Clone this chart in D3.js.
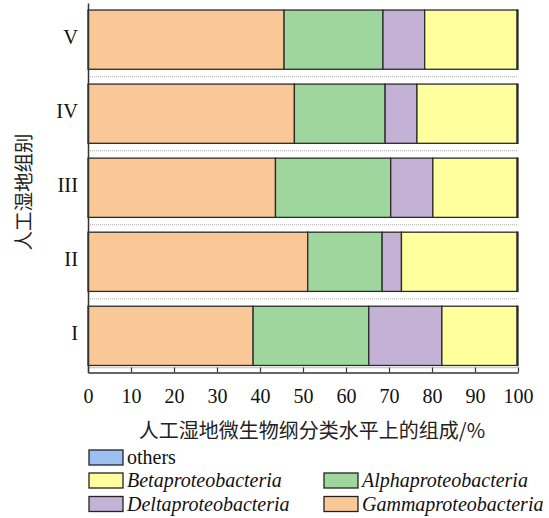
<!DOCTYPE html>
<html><head><meta charset="utf-8">
<script src="https://cdn.jsdelivr.net/npm/d3@7"></script>
<style>body{margin:0;background:#fff}svg{display:block}</style>
</head><body>
<svg id="c" width="549" height="518"></svg>
<script>
const groups = ["I","II","III","IV","V"];
const seriesNames = ["Gammaproteobacteria","Alphaproteobacteria","Deltaproteobacteria","Betaproteobacteria","others"];
const gamma = [38.4, 51.1, 43.6, 48.0, 45.6];
const alpha = [26.9, 17.3, 26.8, 21.1, 23.0];
const delta = [17.0, 4.5, 9.8, 7.4, 9.7];
const beta  = [17.5, 26.9, 19.6, 23.3, 21.5];
const others= [0.2, 0.2, 0.2, 0.2, 0.2];
const xTicks = [0,10,20,30,40,50,60,70,80,90,100];
const colors = ["#F9C896","#9ED69E","#C3B1D6","#FFFF9E","#9DBEF0"];
const legendOrder = [["others",4,false],["Betaproteobacteria",3,true],["Alphaproteobacteria",1,true],["Deltaproteobacteria",2,true],["Gammaproteobacteria",0,true]];

const table = groups.map((g,i)=>({group:g, Gammaproteobacteria:gamma[i], Alphaproteobacteria:alpha[i], Deltaproteobacteria:delta[i], Betaproteobacteria:beta[i], others:others[i]}));
const stack = d3.stack().keys(seriesNames)(table);

const svg = d3.select("#c");
const x = d3.scaleLinear().domain([0,100]).range([88,518]);
const y = d3.scaleBand().domain(groups).range([372.5,3]).paddingInner(0.2).paddingOuter(0.095);
const serif = "'Liberation Serif','Times New Roman',serif";
const cjk = "'Noto Sans CJK SC',sans-serif";

// dotted separators
const seps = groups.slice(0,-1).map((g,i)=> (y(g) + y(groups[i+1]) + y.bandwidth())/2);
svg.append("g").selectAll("line").data(seps).join("line")
  .attr("x1",x(0)).attr("x2",x(100)).attr("y1",d=>d).attr("y2",d=>d)
  .attr("stroke","#aaa").attr("stroke-width",1).attr("stroke-dasharray","1,1");
svg.append("line").attr("x1",x(0)).attr("x2",x(100))
  .attr("y1",y("I")+y.bandwidth()+2.3).attr("y2",y("I")+y.bandwidth()+2.3)
  .attr("stroke","#bbb").attr("stroke-width",1);

// bars
svg.append("g").selectAll("g").data(stack).join("g")
  .attr("fill",(d,i)=>colors[i])
  .selectAll("rect").data(d=>d).join("rect")
  .attr("x",d=>x(d[0])).attr("width",d=>x(d[1])-x(d[0]))
  .attr("y",d=>y(d.data.group)).attr("height",y.bandwidth())
  .attr("stroke","#2b2b2b").attr("stroke-width",1.3);

// x axis
const xa = svg.append("g").attr("transform","translate(0,372.5)")
  .call(d3.axisBottom(x).tickValues(xTicks).tickSizeInner(-5).tickSizeOuter(0).tickPadding(16));
xa.select(".domain").attr("stroke","#333").attr("stroke-width",1.5);
xa.selectAll(".tick line").attr("stroke","#333").attr("stroke-width",1.2);
xa.selectAll("text").attr("font-family",serif).attr("font-size",20).attr("fill","#111");

// y axis
const ya = svg.append("g").attr("transform","translate(88,0)")
  .call(d3.axisLeft(y).tickSize(0).tickPadding(10));
ya.select(".domain").attr("stroke","#333").attr("stroke-width",1.5);
ya.selectAll("text").attr("font-family",serif).attr("font-size",20.5).attr("fill","#111").attr("dy","0.2em");

// titles
svg.append("text").attr("x",312).attr("y",438).attr("text-anchor","middle")
  .attr("font-family",cjk).attr("font-size",20).attr("fill","#222")
  .text("人工湿地微生物纲分类水平上的组成/%");
svg.append("text").attr("transform","translate(31,192) rotate(-90)").attr("text-anchor","middle")
  .attr("font-family",cjk).attr("font-size",19.5).attr("fill","#222")
  .text("人工湿地组别");

// legend
const lpos = [[89,450],[89,473],[324,473],[89,496.5],[324,496.5]];
const lg = svg.append("g").selectAll("g").data(legendOrder).join("g")
  .attr("transform",(d,i)=>`translate(${lpos[i][0]},${lpos[i][1]})`);
lg.append("rect").attr("width",34).attr("height",15).attr("fill",d=>colors[d[1]])
  .attr("stroke","#222").attr("stroke-width",1.3);
lg.append("text").attr("x",38).attr("y",14).attr("font-family",serif).attr("font-size",20)
  .attr("font-style",d=>d[2]?"italic":"normal").attr("fill","#111").text(d=>d[0]);
</script>
</body></html>
